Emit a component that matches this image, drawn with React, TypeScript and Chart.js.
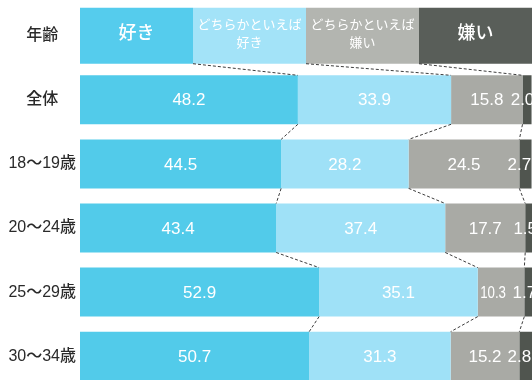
import React, { useEffect, useRef } from "react";
import { Chart, registerables } from "chart.js";
Chart.register(...registerables);

const categories = ["年齢", "全体", "18～19歳", "20～24歳", "25～29歳", "30～34歳"];
const seriesNames = ["好き", "どちらかといえば好き", "どちらかといえば嫌い", "嫌い"];
const headerLines = [["好き"], ["どちらかといえば", "好き"], ["どちらかといえば", "嫌い"], ["嫌い"]];
const headerShares = [25, 25, 25, 25];
const like = [48.2, 44.5, 43.4, 52.9, 50.7];
const ratherLike = [33.9, 28.2, 37.4, 35.1, 31.3];
const ratherDislike = [15.8, 24.5, 17.7, 10.3, 15.2];
const dislike = [2.0, 2.7, 1.5, 1.7, 2.8];

const barColors = ["#52cbea", "#9fe1f7", "#a9aaa5", "#50554f"];
const headerColors = ["#55cced", "#a3e3f8", "#b3b5b0", "#595e59"];

const JP = '"Liberation Sans", "Noto Sans CJK JP", sans-serif';

const overlay = {
  id: "overlay",
  afterDatasetsDraw(chart: any) {
    const ctx = chart.ctx as CanvasRenderingContext2D;
    const metas = [0, 1, 2, 3, 4, 5, 6, 7].map((i) => chart.getDatasetMeta(i));
    ctx.save();
    // dashed connectors
    ctx.strokeStyle = "#3c3c3c";
    ctx.lineWidth = 1;
    ctx.setLineDash([3, 2]);
    for (let r = 0; r < categories.length - 1; r++) {
      for (let k = 0; k < 3; k++) {
        const upper = r === 0 ? metas[k].data[0] : metas[4 + k].data[r];
        const lower = metas[4 + k].data[r + 1];
        if (!upper || !lower) continue;
        ctx.beginPath();
        ctx.moveTo(upper.x, upper.y + upper.height / 2);
        ctx.lineTo(lower.x, lower.y - lower.height / 2);
        ctx.stroke();
      }
    }
    ctx.setLineDash([]);
    // header texts
    ctx.fillStyle = "#ffffff";
    ctx.textAlign = "center";
    ctx.textBaseline = "middle";
    for (let k = 0; k < 4; k++) {
      const el = metas[k].data[0];
      const cx = (el.base + el.x) / 2;
      const lines = headerLines[k];
      if (lines.length === 1) {
        ctx.font = `500 18px ${JP}`;
        ctx.fillText(lines[0], cx, el.y - 2);
      } else {
        ctx.font = `13px ${JP}`;
        ctx.fillText(lines[0], cx, el.y - 10);
        ctx.fillText(lines[1], cx, el.y + 8);
      }
    }
    // value labels
    ctx.font = `17px "Liberation Sans", Arial, sans-serif`;
    for (let k = 0; k < 4; k++) {
      const meta = metas[4 + k];
      const ds = chart.data.datasets[4 + k];
      for (let j = 1; j < categories.length; j++) {
        const el = meta.data[j];
        const v = ds.data[j];
        if (v == null) continue;
        const text = Number(v).toFixed(1);
        if (k === 3) {
          ctx.fillText(text, el.base, el.y + 1);
          continue;
        }
        let cx = (el.base + el.x) / 2;
        const w = ctx.measureText(text).width;
        const maxRight = k === 2 ? el.x - 16 : el.x - 4;
        if (cx + w / 2 > maxRight) {
          const sx = 0.78;
          cx = (el.base + maxRight) / 2;
          ctx.save();
          ctx.translate(cx, el.y + 1);
          ctx.scale(sx, 1);
          ctx.fillText(text, 0, 0);
          ctx.restore();
        } else {
          ctx.fillText(text, cx, el.y + 1);
        }
      }
    }
    ctx.restore();
  },
};

export default function App() {
  const ref = useRef<HTMLCanvasElement>(null);
  useEffect(() => {
    const mainSeries = [like, ratherLike, ratherDislike, dislike];
    const datasets: any[] = [];
    for (let k = 0; k < 4; k++) {
      datasets.push({
        label: seriesNames[k],
        data: [headerShares[k], null, null, null, null, null],
        backgroundColor: headerColors[k],
        barPercentage: 0.874,
        categoryPercentage: 1,
      });
    }
    for (let k = 0; k < 4; k++) {
      datasets.push({
        label: seriesNames[k],
        data: [null, ...mainSeries[k]],
        backgroundColor: barColors[k],
        barPercentage: 0.764,
        categoryPercentage: 1,
      });
    }
    const chart = new Chart(ref.current!, {
      type: "bar",
      data: { labels: categories, datasets },
      options: {
        responsive: false,
        animation: false,
        indexAxis: "y",
        layout: { padding: { top: 3.65, bottom: 3.75, left: 0, right: 0 } },
        plugins: { legend: { display: false }, tooltip: { enabled: false } },
        scales: {
          x: { stacked: true, min: 0, max: 100, display: false },
          y: {
            stacked: true,
            grid: { display: false, drawTicks: false },
            border: { display: false },
            ticks: {
              crossAlign: "center",
              padding: 4,
              color: "#2a2a2a",
              font: { family: JP, size: 16, weight: "500" },
            },
            afterFit: (s: any) => {
              s.width = 80;
              s.paddingTop = 0;
              s.paddingBottom = 0;
            },
          },
        },
      } as any,
      plugins: [overlay],
    });
    return () => chart.destroy();
  }, []);
  return (
    <div
      style={{
        position: "fixed",
        left: 0,
        top: 0,
        width: 532,
        height: 380,
        overflow: "hidden",
        background: "#fff",
      }}
    >
      <canvas ref={ref} width={532} height={392} style={{ display: "block", width: 532, height: 392 }} />
    </div>
  );
}
